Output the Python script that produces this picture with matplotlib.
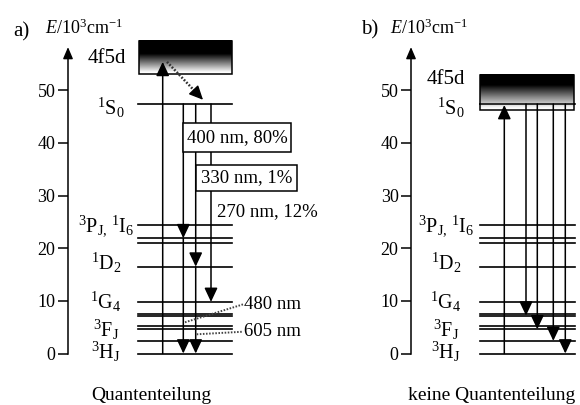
import numpy as np
import matplotlib.pyplot as plt
from matplotlib.patches import Rectangle

plt.rcParams['font.family'] = ['Liberation Serif', 'DejaVu Serif']
plt.rcParams['mathtext.fontset'] = 'custom'
plt.rcParams['mathtext.rm'] = 'Liberation Serif'
plt.rcParams['mathtext.it'] = 'Liberation Serif:italic'

# energy levels of Pr3+ (10^3 cm^-1)
levels = [0.0, 2.4, 4.6, 5.3, 7.2, 7.5, 9.8, 16.5, 21.0, 21.9, 24.4, 47.4]
level_names = [r'$^3\mathrm{H}_\mathrm{J}$', r'$^3\mathrm{F}_\mathrm{J}$', r'$^1\mathrm{G}_4$',
               r'$^1\mathrm{D}_2$', r'$^3\mathrm{P}_{\mathrm{J,}}\,^1\mathrm{I}_6$', r'$^1\mathrm{S}_0$']
name_E = [0.3, 4.5, 9.8, 17.2, 24.1, 46.7]
yticks = [0, 10, 20, 30, 40, 50]

# panel a: 4f5d band, cascade emission
band_a = (53.1, 59.4)
E_S0 = 47.4
casc_targets = [[21.9, 0.0], [16.5, 0.0], [9.8]]
casc_labels = ['400 nm, 80%', '330 nm, 1%', '270 nm, 12%']

# panel b: 4f5d band just above 1S0, direct emission
band_b = (46.2, 52.9)
direct_targets = [7.2, 4.6, 2.4, 0.0]

fig = plt.figure(figsize=(5.8, 4.05), dpi=100)
W, H = 580, 405
ppe = 5.264     # px per 10^3 cm^-1
y0 = 51.5       # px from bottom for E = 0
ylo, yhi = -9, 62


def make_ax(xpix, wpix):
    ax = fig.add_axes([xpix / W, (y0 + ylo * ppe) / H, wpix / W, (yhi - ylo) * ppe / H])
    ax.set_xlim(0, wpix)
    ax.set_ylim(ylo, yhi)
    for s in ['top', 'right', 'bottom']:
        ax.spines[s].set_visible(False)
    ax.spines['left'].set_bounds(0, 57)
    ax.spines['left'].set_linewidth(1.1)
    ax.set_xticks([])
    ax.set_yticks(yticks)
    ax.tick_params(axis='y', direction='out', length=7, width=1.1, labelsize=13, pad=2)
    ax.annotate('', xy=(0, 58.2), xytext=(0, 56.5),
                arrowprops=dict(arrowstyle='-|>,head_length=0.7,head_width=0.3',
                                mutation_scale=10, color='k', lw=1, shrinkA=0, shrinkB=0),
                annotation_clip=False)
    ax.patch.set_alpha(0)
    return ax


def gradient_box(ax, x0, x1, e0, e1, dark_frac):
    t = np.linspace(0, 1, 200)[:, None]
    g = np.clip((t - dark_frac) / (0.95 - dark_frac), 0, 1)
    ax.imshow(g, cmap='gray', vmin=0, vmax=1, extent=(x0, x1, e0, e1),
              aspect='auto', origin='upper', zorder=2)
    ax.add_patch(Rectangle((x0, e0), x1 - x0, e1 - e0, fill=False, ec='k', lw=1.1, zorder=3))


def arrow(ax, x, e_from, e_to):
    ax.annotate('', xy=(x, e_to), xytext=(x, e_from),
                arrowprops=dict(arrowstyle='-|>,head_length=0.85,head_width=0.4',
                                mutation_scale=10, color='k', lw=1.1, shrinkA=0, shrinkB=0),
                zorder=4)


def draw_levels(ax, x0, x1, name_x):
    for e in levels:
        ax.plot([x0, x1], [e, e], color='k', lw=1.2, zorder=1)
    for name, e in zip(level_names, name_E):
        xx = name_x + (5 if 'S' in name else 0)
        ax.text(xx, e, name, ha='center', va='center', fontsize=14.5)


# ---------- panel a ----------
axa = make_ax(68, 222)
draw_levels(axa, 70, 164, 38)
gradient_box(axa, 71, 164, band_a[0], band_a[1], 0.4)
axa.text(39, 56.1, '4f5d', ha='center', va='center', fontsize=15)

arrow(axa, 94.7, 0, 55.4)
# dotted nonradiative relaxation 4f5d -> 1S0
xs, es = 99, 55.4
xe, ee = 135, 48.2
axa.plot([xs, xs + 0.8 * (xe - xs)], [es, es + 0.8 * (ee - es)], color='#333333',
         lw=1.8, ls=(0, (0.7, 0.7)), zorder=4)
axa.annotate('', xy=(xe, ee), xytext=(xs + 0.75 * (xe - xs), es + 0.75 * (ee - es)),
             arrowprops=dict(arrowstyle='-|>,head_length=0.85,head_width=0.4',
                             mutation_scale=10, color='k', lw=1, shrinkA=0, shrinkB=0),
             zorder=4)

casc_x = [115.3, 127.7, 143]
for x, tg in zip(casc_x, casc_targets):
    start = E_S0
    for e in tg:
        arrow(axa, x, start, e)
        start = e

# wavelength boxes
axa.add_patch(Rectangle((115.3, 38.3), 107.4, 5.4, fc='white', ec='k', lw=1.1,
                        zorder=5, clip_on=False))
axa.text(119, 41.0, casc_labels[0], ha='left', va='center', fontsize=13.5, zorder=6)
axa.add_patch(Rectangle((127.7, 30.9), 101, 4.9, fc='white', ec='k', lw=1.1,
                        zorder=5, clip_on=False))
axa.text(133, 33.4, casc_labels[1], ha='left', va='center', fontsize=13.5, zorder=6)
axa.text(149, 26.9, casc_labels[2], ha='left', va='center', fontsize=13.5, zorder=6)

# visible emission lines
axa.plot([117, 175.3], [5.93, 9.35], color='#444444', lw=1.4, ls=(0, (0.8, 0.8)), zorder=4)
axa.plot([128.7, 175.3], [3.65, 4.14], color='#444444', lw=1.4, ls=(0, (0.8, 0.8)), zorder=4)
axa.text(176.5, 9.3, '480 nm', ha='left', va='center', fontsize=13.5)
axa.text(176.5, 4.25, '605 nm', ha='left', va='center', fontsize=13.5)

axa.text(-47, 61.1, 'a)', ha='center', va='center', fontsize=15)
axa.text(-23, 61.8, r'$E\mathrm{/10^3cm^{-1}}$', ha='left', va='center', fontsize=13)
axa.text(83, -7.9, 'Quantenteilung', ha='center', va='center', fontsize=14)

# ---------- panel b ----------
axb = make_ax(411, 169)
draw_levels(axb, 69, 164, 35)
gradient_box(axb, 69, 163, band_b[0], band_b[1], 0.3)
axb.plot([69, 163], [E_S0, E_S0], color='k', lw=1.1, zorder=3)
axb.text(35, 52.0, '4f5d', ha='center', va='center', fontsize=15)

arrow(axb, 93.3, 0, E_S0 - 0.2)
for x, e in zip([115, 126.3, 142.3, 154.3], direct_targets):
    arrow(axb, x, E_S0, e)

axb.text(-41, 61.5, 'b)', ha='center', va='center', fontsize=15)
axb.text(-21, 61.8, r'$E\mathrm{/10^3cm^{-1}}$', ha='left', va='center', fontsize=13)
axb.text(81, -7.9, 'keine Quantenteilung', ha='center', va='center', fontsize=14)

fig.savefig('out.png', dpi=100)
